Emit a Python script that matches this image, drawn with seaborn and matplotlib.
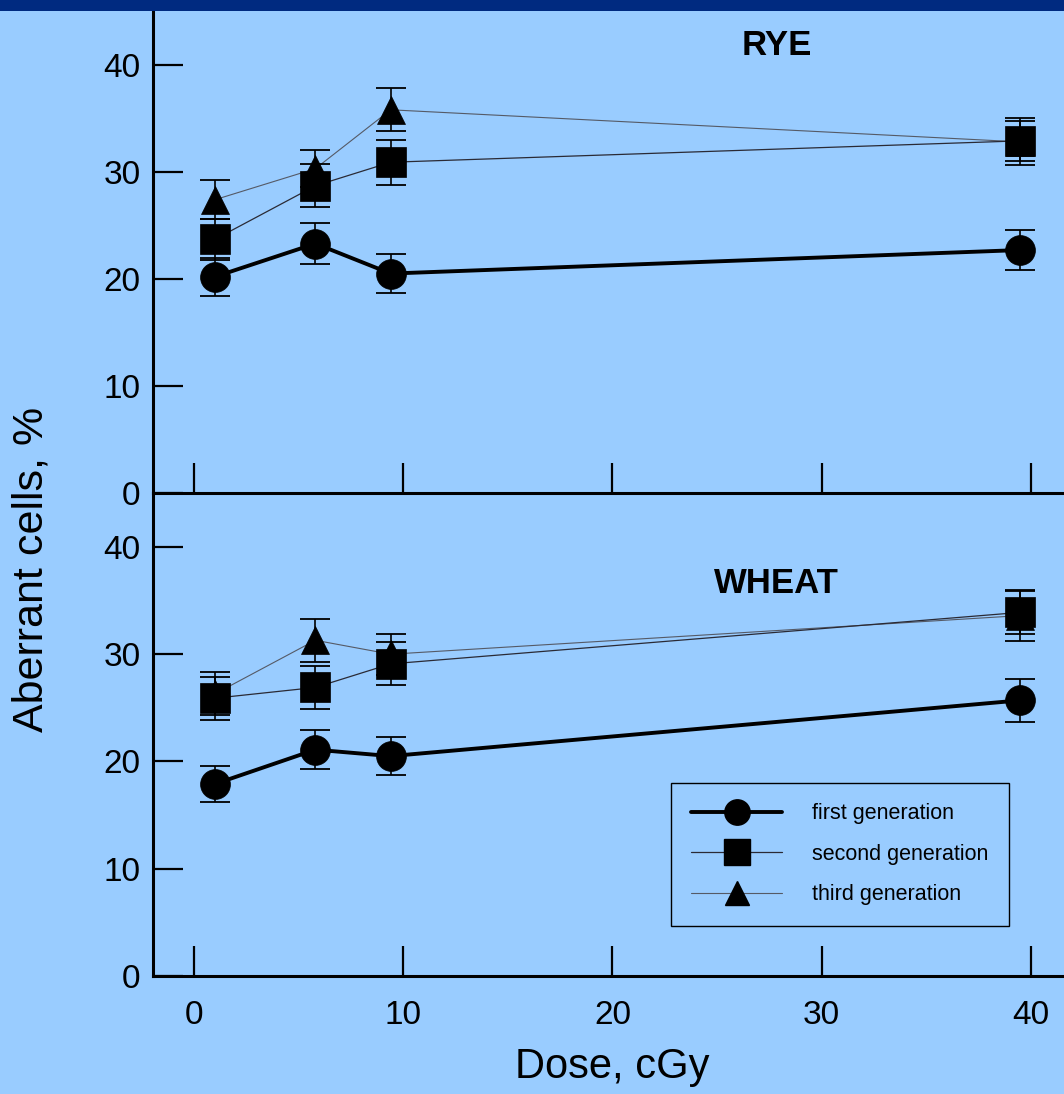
import matplotlib
matplotlib.use("Agg")
import matplotlib.pyplot as plt
from matplotlib.lines import Line2D
from matplotlib.patches import Rectangle
import seaborn as sns

# Dose points (cGy)
dose = [1.0, 5.8, 9.4, 39.5]

# Rye: percentage of aberrant cells and standard errors
rye_first = [20.2, 23.3, 20.5, 22.7]
rye_first_err = [1.8, 1.9, 1.8, 1.9]
rye_second = [23.7, 28.7, 30.9, 32.9]
rye_second_err = [1.9, 2.0, 2.1, 1.9]
rye_third = [27.4, 30.3, 35.8, 32.8]
rye_third_err = [1.8, 1.7, 2.0, 2.2]

# Wheat: percentage of aberrant cells and standard errors
wheat_first = [17.9, 21.1, 20.5, 25.7]
wheat_first_err = [1.7, 1.8, 1.8, 2.0]
wheat_second = [25.9, 26.9, 29.1, 33.9]
wheat_second_err = [2.0, 2.0, 2.0, 2.0]
wheat_third = [26.3, 31.3, 30.0, 33.6]
wheat_third_err = [2.0, 2.0, 1.9, 2.4]

generations = ["first generation", "second generation", "third generation"]
y_ticks = [0, 10, 20, 30, 40]
x_ticks = [0, 10, 20, 30, 40]

BG = "#99CCFF"
BAND = "#002A80"

sns.set_theme(style="ticks", rc={
    "axes.facecolor": BG,
    "figure.facecolor": BG,
    "axes.edgecolor": "black",
    "text.color": "black",
    "axes.labelcolor": "black",
    "xtick.color": "black",
    "ytick.color": "black",
})
plt.rcParams["font.family"] = ["Liberation Sans", "DejaVu Sans"]

W, H = 1064, 1094
fig = plt.figure(figsize=(W / 100, H / 100), dpi=100)

left = 153 / W
ax_bot = fig.add_axes([left, (H - 976) / H, 1 - left, 483 / H])
ax_top = fig.add_axes([left, (H - 493) / H, 1 - left, 482 / H])
ax_top.patch.set_visible(False)
ax_bot.patch.set_visible(False)

styles = {
    "first generation": dict(marker="o", markersize=21.5, color="black", lw=2.8, z=4),
    "second generation": dict(marker="s", markersize=22, color="#2a2a35", lw=0.9, z=3),
    "third generation": dict(marker="^", markersize=19.5, color="#555a66", lw=0.8, z=2),
}


def draw_panel(ax, series, title, title_y):
    for name, (vals, errs) in zip(generations, series):
        st = styles[name]
        ax.errorbar(dose, vals, yerr=errs, fmt="none", ecolor="black",
                    elinewidth=1.2, capsize=11, capthick=1.3, zorder=st["z"])
        sns.lineplot(x=dose, y=vals, ax=ax, color=st["color"], lw=st["lw"],
                     marker=st["marker"], markersize=st["markersize"],
                     markerfacecolor="black", markeredgecolor="black",
                     markeredgewidth=0.5, legend=False, zorder=st["z"] + 0.5)
    ax.set_xlim(-1.96, 41.58)
    ax.set_ylim(0, 45.03)
    ax.set_xticks(x_ticks)
    ax.set_yticks(y_ticks)
    ax.set_xlabel("")
    ax.set_ylabel("")
    for side in ("top", "right"):
        ax.spines[side].set_visible(False)
    for side in ("left", "bottom"):
        ax.spines[side].set_linewidth(2.2)
    ax.tick_params(axis="both", direction="in", length=21.5, width=1.6,
                   labelsize=24, colors="black")
    ax.tick_params(axis="y", pad=9)
    ax.tick_params(axis="x", pad=17)
    ax.text(27.85, title_y, title, ha="center", va="center",
            fontsize=25, fontweight="bold", color="black")


draw_panel(ax_top,
           [(rye_first, rye_first_err), (rye_second, rye_second_err),
            (rye_third, rye_third_err)],
           "RYE", 41.8)
draw_panel(ax_bot,
           [(wheat_first, wheat_first_err), (wheat_second, wheat_second_err),
            (wheat_third, wheat_third_err)],
           "WHEAT", 36.6)
ax_top.tick_params(axis="x", labelbottom=False)

# Legend built from the series styles
handles = []
for name in generations:
    st = styles[name]
    handles.append(Line2D([], [], color=st["color"], lw=st["lw"], marker=st["marker"],
                          markersize=st["markersize"] * 0.85,
                          markerfacecolor="black", markeredgecolor="black"))
leg = ax_bot.legend(handles, generations, loc="upper left",
                    bbox_to_anchor=(671 / W, 1 - 783 / H),
                    bbox_transform=fig.transFigure, borderaxespad=0,
                    fontsize=15.5, handlelength=4.2, handletextpad=1.4,
                    labelspacing=0.9, borderpad=0.95, fancybox=False,
                    framealpha=1, facecolor=BG, edgecolor="black")
leg.get_frame().set_linewidth(1.0)
for t in leg.get_texts():
    t.set_color("black")

fig.text(612 / W, 1 - 1067 / H, "Dose, cGy", ha="center", va="center",
         fontsize=30, color="black")
fig.text(32 / W, 1 - 569 / H, "Aberrant cells, %", ha="center", va="center",
         rotation=90, fontsize=31, color="black")

# Dark band along the top edge
fig.add_artist(Rectangle((0, 1 - 11 / H), 1, 11 / H, transform=fig.transFigure,
                         facecolor=BAND, edgecolor="none", zorder=10))

fig.savefig("out.png", dpi=100, facecolor=BG)
